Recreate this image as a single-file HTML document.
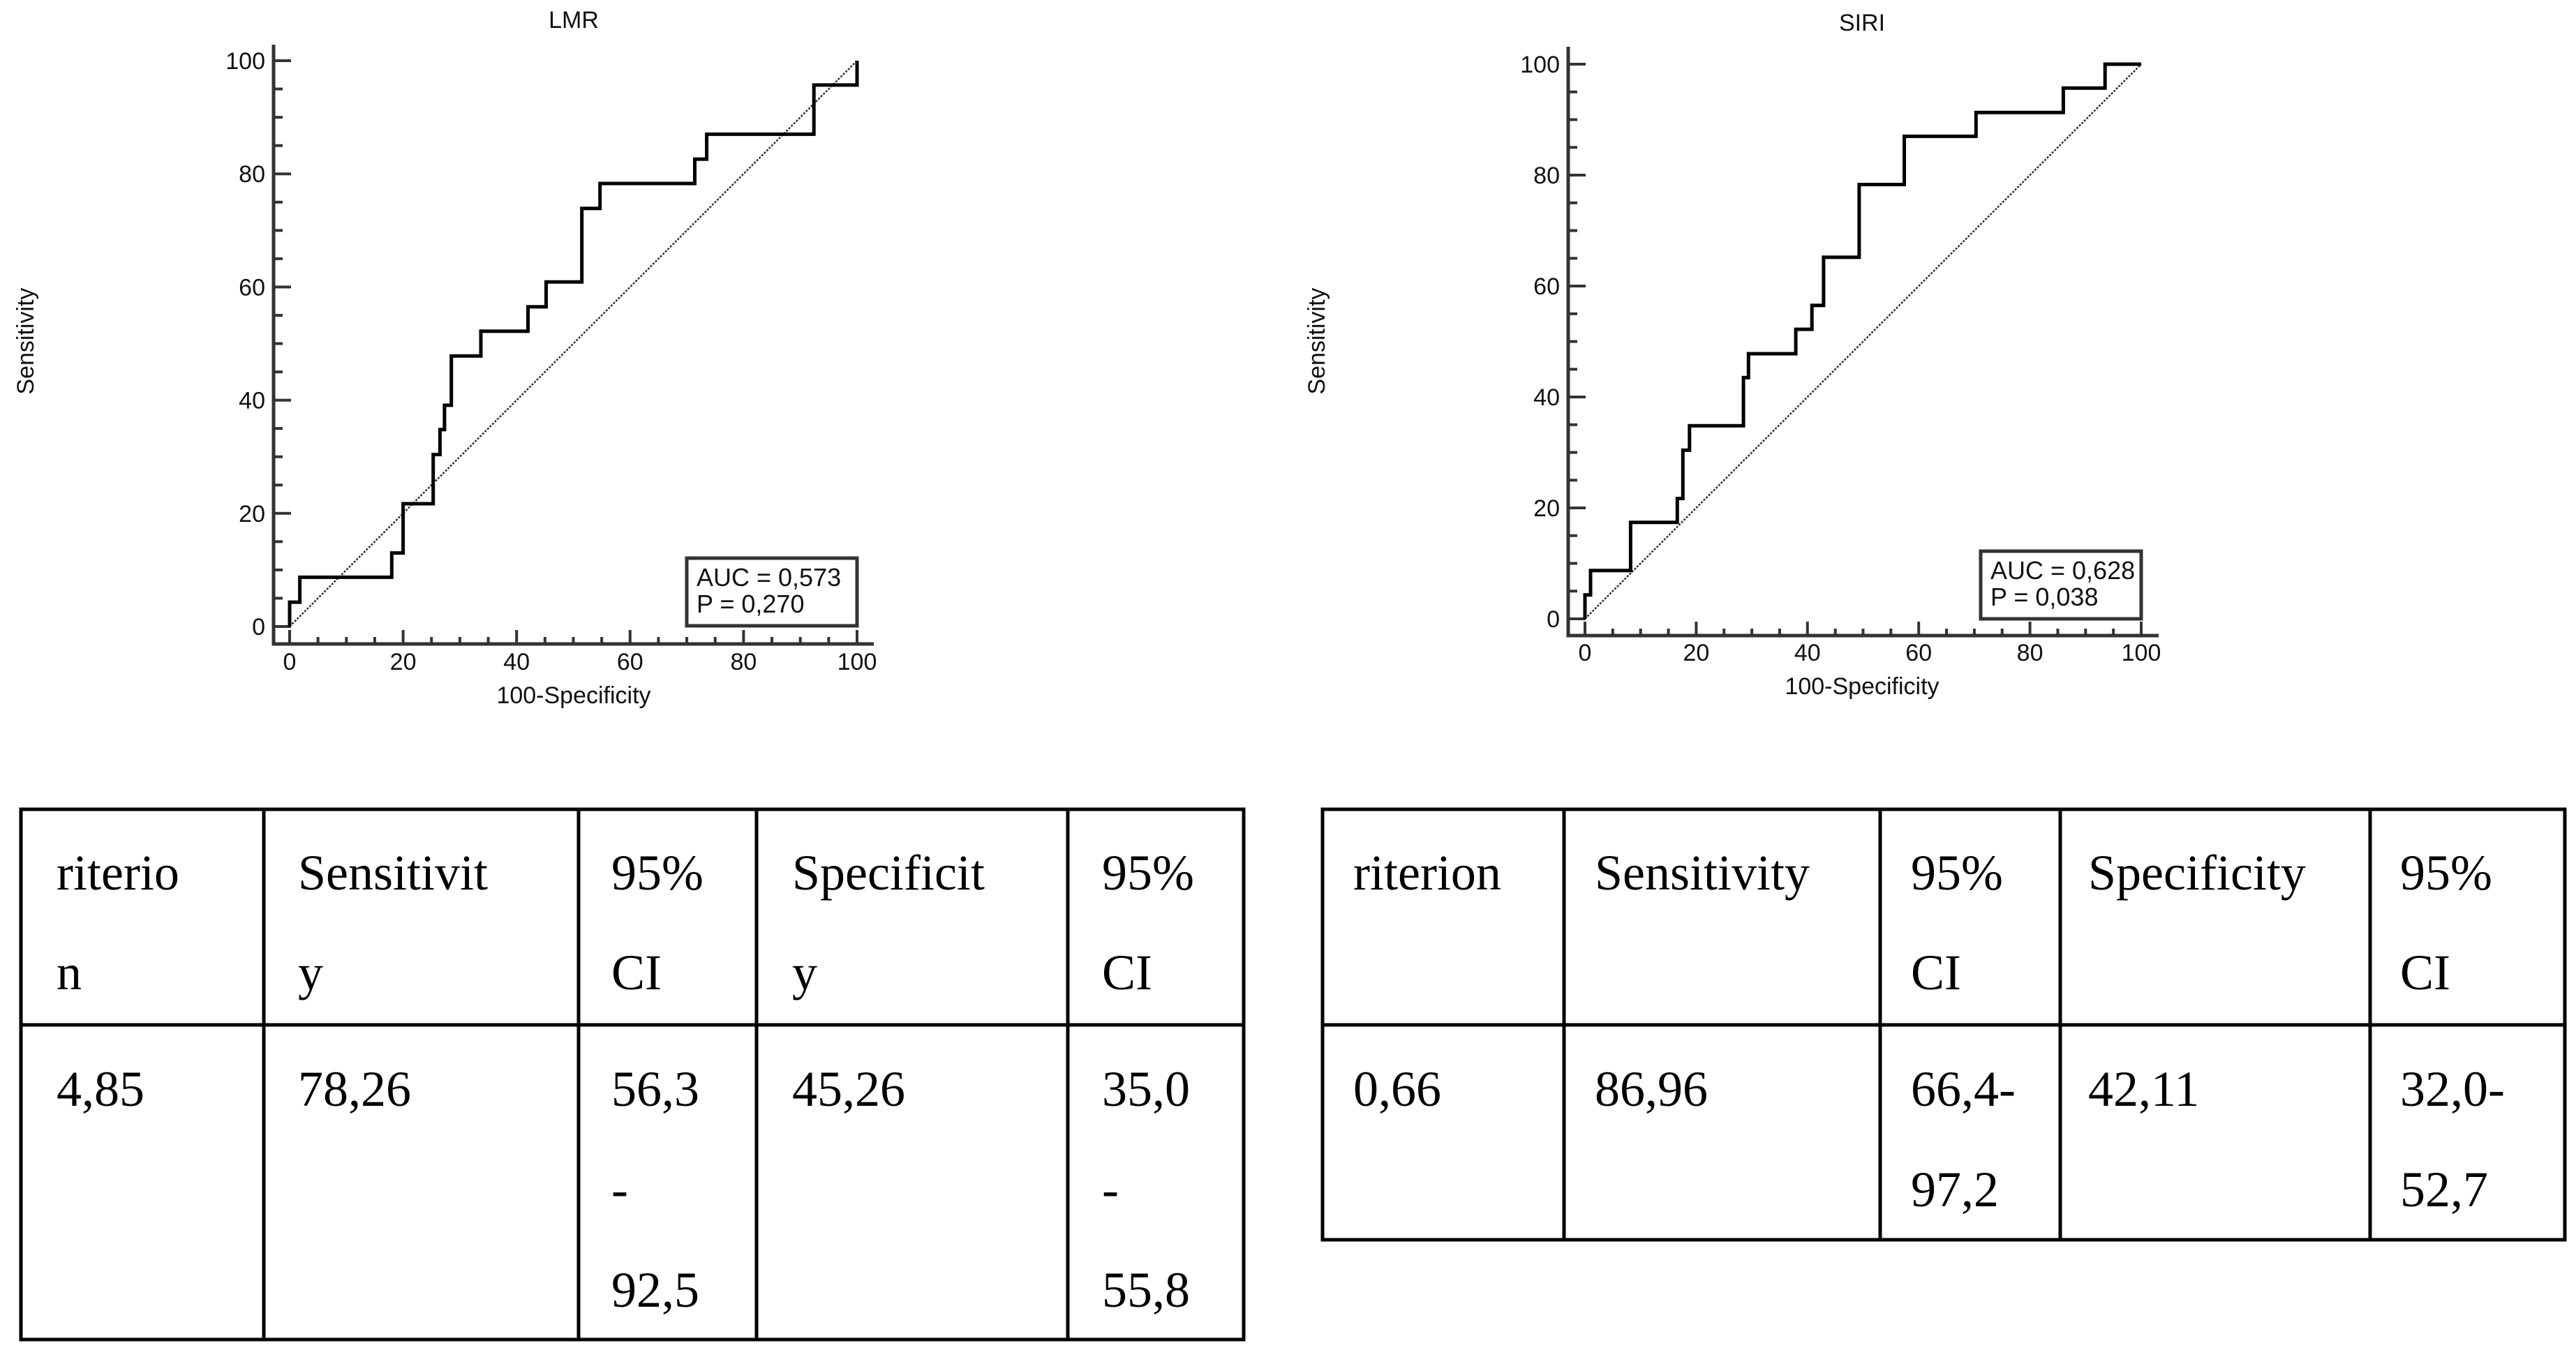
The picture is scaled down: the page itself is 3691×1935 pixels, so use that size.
<!DOCTYPE html>
<html><head><meta charset="utf-8"><style>
html,body{margin:0;padding:0;background:#fff;}
svg{display:block;}
.tk{font-family:"Liberation Sans Narrow","Liberation Sans",sans-serif;font-size:34px;fill:#111;}
.tb{font-family:"Liberation Serif",serif;font-size:72px;fill:#000;}
</style></head><body>
<svg id="root" width="3691" height="1935" viewBox="0 0 3691 1935" xmlns="http://www.w3.org/2000/svg">
<g id="charts"></g>
<g id="tables">
  <g fill="none" stroke="#000" stroke-width="5">
    <rect x="30" y="1160" width="1752" height="760"/>
    <line x1="30" y1="1469" x2="1782" y2="1469"/>
    <line x1="378" y1="1160" x2="378" y2="1920"/>
    <line x1="829" y1="1160" x2="829" y2="1920"/>
    <line x1="1084" y1="1160" x2="1084" y2="1920"/>
    <line x1="1530" y1="1160" x2="1530" y2="1920"/>
  </g>
  <g class="tb">
    <text x="81" y="1275">riterio</text><text x="81" y="1418">n</text>
    <text x="427" y="1275">Sensitivit</text><text x="427" y="1418">y</text>
    <text x="876" y="1275">95%</text><text x="876" y="1418">CI</text>
    <text x="1135" y="1275">Specificit</text><text x="1135" y="1418">y</text>
    <text x="1579" y="1275">95%</text><text x="1579" y="1418">CI</text>
    <text x="81" y="1585">4,85</text>
    <text x="427" y="1585">78,26</text>
    <text x="876" y="1585">56,3</text><text x="876" y="1729">-</text><text x="876" y="1873">92,5</text>
    <text x="1135" y="1585">45,26</text>
    <text x="1579" y="1585">35,0</text><text x="1579" y="1729">-</text><text x="1579" y="1873">55,8</text>
  </g>
  <g fill="none" stroke="#000" stroke-width="5">
    <rect x="1895" y="1160" width="1780" height="617"/>
    <line x1="1895" y1="1469" x2="3675" y2="1469"/>
    <line x1="2241" y1="1160" x2="2241" y2="1777"/>
    <line x1="2694" y1="1160" x2="2694" y2="1777"/>
    <line x1="2952" y1="1160" x2="2952" y2="1777"/>
    <line x1="3396" y1="1160" x2="3396" y2="1777"/>
  </g>
  <g class="tb">
    <text x="1939" y="1275">riterion</text>
    <text x="2285" y="1275">Sensitivity</text>
    <text x="2738" y="1275">95%</text><text x="2738" y="1418">CI</text>
    <text x="2992" y="1275">Specificity</text>
    <text x="3439" y="1275">95%</text><text x="3439" y="1418">CI</text>
    <text x="1939" y="1585">0,66</text>
    <text x="2285" y="1585">86,96</text>
    <text x="2738" y="1585">66,4-</text><text x="2738" y="1729">97,2</text>
    <text x="2992" y="1585">42,11</text>
    <text x="3439" y="1585">32,0-</text><text x="3439" y="1729">52,7</text>
  </g>
</g>
</svg>
<script>
// LMR ROC data
const lmrFpr = [0,0,1.8,1.8,18,18,20,20,25.3,25.3,26.5,26.5,27.3,27.3,28.5,28.5,33.7,33.7,42,42,45.2,45.2,51.5,51.5,54.7,54.7,71.4,71.4,73.5,73.5,92.4,92.4,100,100];
const lmrSens = [0,4.3,4.3,8.7,8.7,13,13,21.7,21.7,30.4,30.4,34.8,34.8,39.1,39.1,47.8,47.8,52.2,52.2,56.5,56.5,60.9,60.9,73.9,73.9,78.3,78.3,82.6,82.6,87,87,95.7,95.7,100];
const lmrStats = ["AUC = 0,573","P = 0,270"];
// SIRI ROC data
const siriFpr = [0,0,1,1,8.2,8.2,16.6,16.6,17.6,17.6,18.8,18.8,28.5,28.5,29.4,29.4,37.9,37.9,40.8,40.8,42.9,42.9,49.3,49.3,57.4,57.4,70.3,70.3,86,86,93.5,93.5,100];
const siriSens = [0,4.3,4.3,8.7,8.7,17.4,17.4,21.7,21.7,30.4,30.4,34.8,34.8,43.5,43.5,47.8,47.8,52.2,52.2,56.5,56.5,65.2,65.2,78.3,78.3,87,87,91.3,91.3,95.7,95.7,100,100];
const siriStats = ["AUC = 0,628","P = 0,038"];
const tickLabels = [0,20,40,60,80,100];

const NS = "http://www.w3.org/2000/svg";
function mk(tag, attrs, parent){
  const e = document.createElementNS(NS, tag);
  for (const k in attrs) e.setAttribute(k, attrs[k]);
  parent.appendChild(e);
  return e;
}
function drawChart(cfg){
  const root = document.getElementById('charts');
  const g = mk('g', {}, root);
  
  
  const sx = v => cfg.x0 + (cfg.x100 - cfg.x0) * v / 100;
  const sy = v => cfg.y0 + (cfg.y100 - cfg.y0) * v / 100;
  const t = mk('text', {x: cfg.titleX, y: cfg.titleY, 'text-anchor':'middle', class:'tk'}, g);
  t.textContent = cfg.title;
  
  
  const ax = mk('path', {d:`M${cfg.axL},${cfg.axT} V${cfg.axB} H${cfg.axR}`, fill:'none', stroke:'#333', 'stroke-width':5}, g);
  
  
  for (let v = 0; v <= 100; v += 5) {
    const major = v % 20 === 0;
    mk('line', {x1:cfg.axL, x2:cfg.axL+(major?25:13), y1:sy(v), y2:sy(v), stroke:'#333', 'stroke-width':4}, g);
    mk('line', {x1:sx(v), x2:sx(v), y1:cfg.axB, y2:cfg.axB-(major?20:10), stroke:'#333', 'stroke-width':4}, g);
  }
  tickLabels.forEach(v => {
    const yl = mk('text', {x: cfg.axL-12, y: sy(v)+12, 'text-anchor':'end', class:'tk'}, g);
    yl.textContent = v;
    
    
    const xl = mk('text', {x: sx(v), y: cfg.tickY, 'text-anchor':'middle', class:'tk'}, g);
    xl.textContent = v;
    
    
  });
  const xt = mk('text', {x: cfg.titleX, y: cfg.xtY, 'text-anchor':'middle', class:'tk'}, g);
  xt.textContent = '100-Specificity';
  
  
  const yt = mk('text', {x:0, y:0, 'text-anchor':'middle', class:'tk', transform:`translate(${cfg.ytX},489) rotate(-90)`}, g);
  yt.textContent = 'Sensitivity';
  
  
  const dg = mk('line', {x1:sx(0), y1:sy(0), x2:sx(100), y2:sy(100), stroke:'#333', 'stroke-width':2.5, 'stroke-dasharray':'3 2'}, g);
  
  
  const pts = cfg.fpr.map((f,i) => `${sx(f).toFixed(1)},${sy(cfg.sens[i]).toFixed(1)}`).join(' ');
  const cv = mk('polyline', {points: pts, fill:'none', stroke:'#000', 'stroke-width':5, 'stroke-linejoin':'miter'}, g);
  
  
  const lg = mk('g', {}, g);
  
  
  mk('rect', {x:cfg.lgX, y:cfg.lgY, width:cfg.lgW, height:cfg.lgH, fill:'#fff', stroke:'#333', 'stroke-width':5}, lg);
  cfg.stats.forEach((s,i) => {
    const st = mk('text', {x: cfg.lgX+14, y: cfg.lgY+40+i*38, class:'tk', style:'font-size:36px'}, lg);
    st.textContent = s;
    
    
  });
}
drawChart({name:'lmr-roc-chart', title:'LMR', titleX:822, titleY:40, x0:415, x100:1228, y0:898, y100:87,
  axL:392, axB:923, axR:1252, axT:64, lgX:984, lgY:800, lgW:244, lgH:97, ytX:48, tickY:960, xtY:1008,
  fpr:lmrFpr, sens:lmrSens, stats:lmrStats});
drawChart({name:'siri-roc-chart', title:'SIRI', titleX:2668, titleY:44, x0:2271, x100:3068, y0:887, y100:92,
  axL:2247, axB:911, axR:3093, axT:67, lgX:2838, lgY:790, lgW:230, lgH:97, ytX:1898, tickY:947, xtY:995,
  fpr:siriFpr, sens:siriSens, stats:siriStats});
</script>
</body></html>
